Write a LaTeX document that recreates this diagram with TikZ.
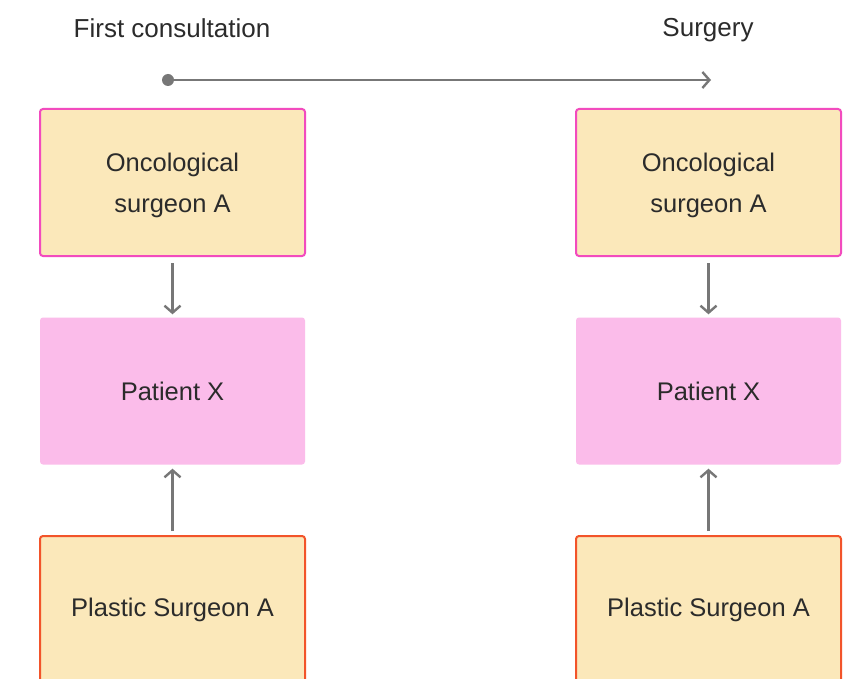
\documentclass[tikz,border=0pt]{standalone}
\usepackage{fontspec}
\setmainfont{Liberation Sans}
\usetikzlibrary{arrows.meta}
\definecolor{boxfill}{HTML}{FBE8BA}
\definecolor{pinkedge}{HTML}{F24BBE}
\definecolor{orangeedge}{HTML}{F2542A}
\definecolor{patientfill}{HTML}{FBBCEA}
\definecolor{linegray}{HTML}{777777}
\definecolor{textdark}{HTML}{2B2B2B}
\tikzset{
  cardtext/.style={align=center, text=textdark, font=\fontsize{25.5}{41}\selectfont, inner sep=0pt},
  card/.style={minimum width=265pt, minimum height=147pt, rounded corners=3pt, cardtext},
  oncbox/.style={card, fill=boxfill, draw=pinkedge, line width=2pt},
  patbox/.style={card, fill=patientfill},
  plasbox/.style={card, fill=boxfill, draw=orangeedge, line width=2pt},
  onclabel/.style={label={[cardtext, yshift=-3pt]center:Oncological\\surgeon A}},
  link/.style={draw=linegray, line width=2.4pt, -{Straight Barb[length=7pt,width=16pt,line width=2.4pt]}},
  heading/.style={text=textdark, font=\fontsize{26}{30}\selectfont, inner sep=0pt}
}
\begin{document}
\begin{tikzpicture}[x=1pt, y=-1pt]
  \useasboundingbox (0,0) rectangle (854,679);
  \fill[white] (0,0) rectangle (854,679);

  % headings and timeline
  \node[heading] (hfirst) at (172,28) {First consultation};
  \node[heading] (hsurg) at (708,30) {Surgery};
  \coordinate (tstart) at (168,80);
  \coordinate (tend) at (711,80);
  \fill[linegray] (tstart) circle (6pt);
  \draw[link] (tstart) -- (tend);

  % first consultation column
  \node[oncbox, onclabel] (onc1) at (172.5,182.5) {};
  \node[patbox] (pat1) at (172.5,391) {Patient X};
  \node[plasbox] (pla1) at (172.5,609.5) {Plastic Surgeon A};

  % surgery column
  \node[oncbox, onclabel] (onc2) at (708.5,182.5) {};
  \node[patbox] (pat2) at (708.5,391) {Patient X};
  \node[plasbox] (pla2) at (708.5,609.5) {Plastic Surgeon A};

  % connectors
  \draw[link] ([yshift=-6pt]onc1.south) -- ([yshift=3pt]pat1.north);
  \draw[link] ([yshift=4pt]pla1.north) -- ([yshift=-4pt]pat1.south);
  \draw[link] ([yshift=-6pt]onc2.south) -- ([yshift=3pt]pat2.north);
  \draw[link] ([yshift=4pt]pla2.north) -- ([yshift=-4pt]pat2.south);
\end{tikzpicture}
\end{document}
